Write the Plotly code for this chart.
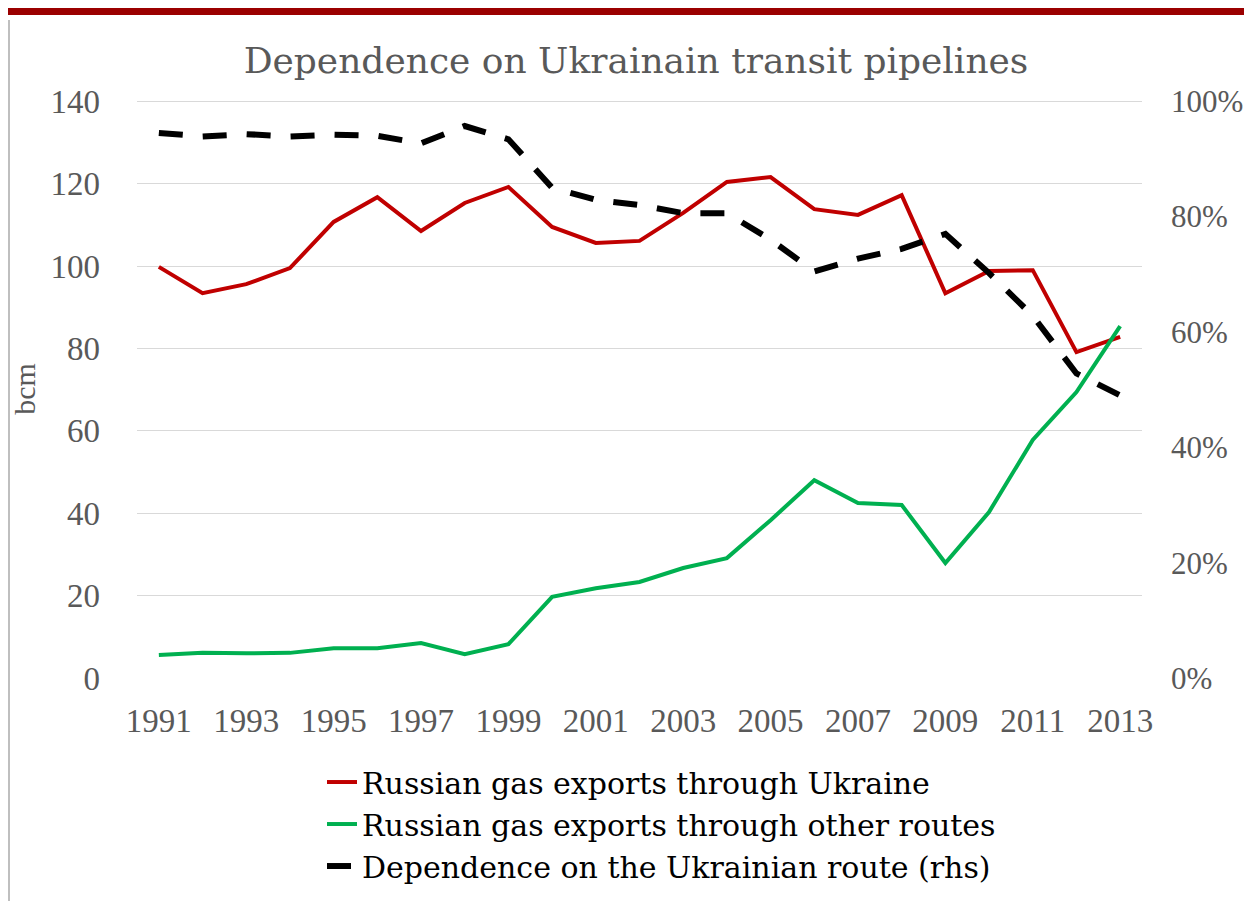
import plotly.graph_objects as go

years = list(range(1991, 2014))
ukraine = [99.8, 93.4, 95.6, 99.5, 110.7, 116.7, 108.5, 115.3, 119.2, 109.5, 105.6, 106.1,
           112.9, 120.4, 121.6, 113.8, 112.4, 117.2, 93.4, 98.8, 99.0, 79.1, 82.8]
other_routes = [5.6, 6.1, 6.0, 6.1, 7.2, 7.2, 8.5, 5.8, 8.2, 19.7, 21.8, 23.3,
                26.7, 29.1, 38.3, 48.0, 42.5, 42.0, 27.9, 40.3, 57.8, 69.4, 85.4]
dependence = [0.945, 0.939, 0.943, 0.939, 0.942, 0.94, 0.927, 0.957, 0.934, 0.85, 0.829, 0.82,
              0.806, 0.806, 0.76, 0.705, 0.727, 0.744, 0.77, 0.702, 0.628, 0.528, 0.49]
x_ticks = list(range(1991, 2014, 2))

serif = "Liberation Serif, serif"
wide_serif = "DejaVu Serif, serif"
grey = "#595959"

top_val = 140.3

fig = go.Figure()
fig.add_trace(go.Scatter(x=years, y=ukraine, mode="lines", name="Russian gas exports through Ukraine",
                         line=dict(color="#C00000", width=4)))
fig.add_trace(go.Scatter(x=years, y=other_routes, mode="lines", name="Russian gas exports through other routes",
                         line=dict(color="#00B050", width=4)))
fig.add_trace(go.Scatter(x=years, y=dependence, mode="lines", name="Dependence on the Ukrainian route (rhs)",
                         yaxis="y2", line=dict(color="black", width=6, dash="24px,20px")))

W, H = 1236, 893
ml, mr, mt, mb = 129, 102, 92, 223
ph = H - mt - mb
pw = W - ml - mr

fig.update_layout(
    width=W, height=H, autosize=False,
    margin=dict(l=ml, r=mr, t=mt, b=mb, autoexpand=False),
    paper_bgcolor="white", plot_bgcolor="white",
    font=dict(family=serif, color=grey, size=33),
    title=dict(text="Dependence on Ukrainain transit pipelines", x=(636 - 8 - ml) / pw, xanchor="center",
               xref="paper", y=1 - 52 / H, yanchor="middle", automargin=False,
               font=dict(family=wide_serif, size=36, color=grey)),
    xaxis=dict(range=[1990.5, 2013.5], tickvals=x_ticks, showgrid=False, zeroline=False,
               showline=False, ticks="", ticklabelstandoff=20, automargin=False,
               tickfont=dict(size=33, color=grey)),
    yaxis=dict(range=[0, top_val], dtick=20, showgrid=True, gridcolor="#D9D9D9", gridwidth=1,
               zeroline=False, showline=False, ticks="", ticklabelstandoff=36, automargin=False,
               tickfont=dict(size=33, color=grey),
               title=dict(text="bcm", font=dict(size=30, color=grey), standoff=6)),
    yaxis2=dict(range=[0, top_val / 140], dtick=0.2, tickformat=".0%", overlaying="y", side="right",
                showgrid=False, zeroline=False, showline=False, ticks="", ticklabelstandoff=28,
                automargin=False, tickfont=dict(size=31, color=grey)),
    legend=dict(x=(322 - 8 - ml) / pw, y=-0.135, xanchor="left", yanchor="top", bgcolor="rgba(0,0,0,0)",
                font=dict(size=30, color="black", family=wide_serif), tracegroupgap=0,
                itemwidth=30),
    showlegend=True,
)

fig.add_shape(type="rect", xref="paper", yref="paper", x0=-0.2, x1=1.2,
              y0=1 + (mt - 7) / ph, y1=1 + (mt + 5) / ph,
              fillcolor="#9B0000", line=dict(width=0), layer="above")
fig.add_shape(type="line", xref="paper", yref="paper", x0=(1 - ml) / pw, x1=(1 - ml) / pw,
              y0=-0.4, y1=1 + (mt - 12) / ph,
              line=dict(color="#BFBFBF", width=2))

fig.write_html("out.html")
